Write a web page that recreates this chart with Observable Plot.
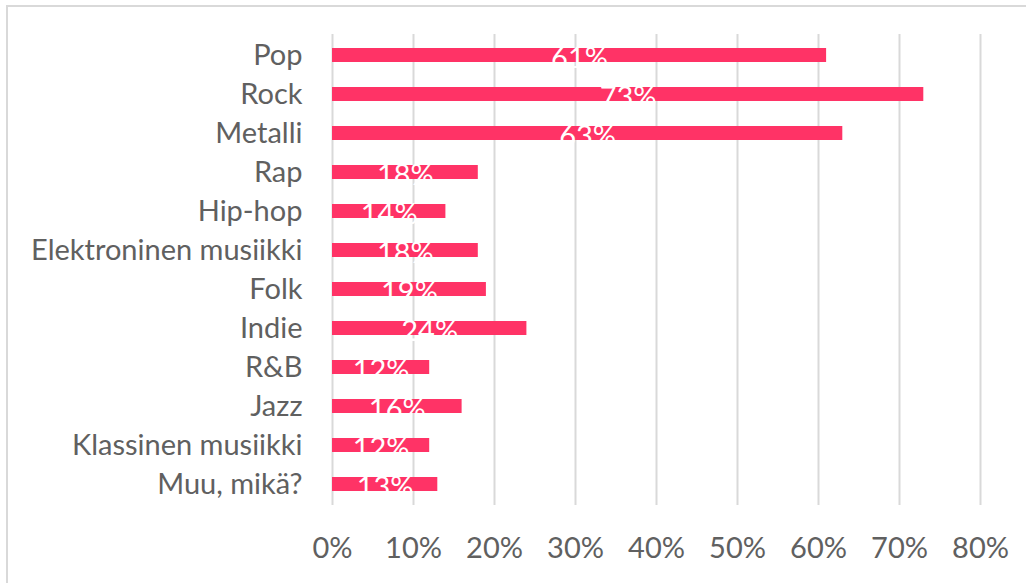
<!DOCTYPE html>
<html>
<head>
<meta charset="utf-8">
<script src="https://cdn.jsdelivr.net/npm/d3@7"></script>
<script src="https://cdn.jsdelivr.net/npm/@observablehq/plot@0.6"></script>
<style>
  html, body { margin: 0; padding: 0; background: #fff; overflow: hidden; }
  #wrap { position: relative; width: 1026px; height: 583px; }
  #frame { position: absolute; left: 6px; top: 5px; width: 1030px; height: 600px; border: 2px solid #d9d9d9; box-sizing: border-box; pointer-events: none; }
</style>
</head>
<body>
<div id="wrap"><div id="frame"></div><div id="chart"></div></div>
<script>
const genres = ["Pop", "Rock", "Metalli", "Rap", "Hip-hop", "Elektroninen musiikki", "Folk", "Indie", "R&B", "Jazz", "Klassinen musiikki", "Muu, mikä?"];
const shares = [61, 73, 63, 18, 14, 18, 19, 24, 12, 16, 12, 13];
const xTicks = [0, 10, 20, 30, 40, 50, 60, 70, 80];

const data = genres.map((g, i) => ({genre: g, value: shares[i]}));

const chart = Plot.plot({
  width: 1026,
  height: 583,
  marginLeft: 332,
  marginRight: 46,
  marginTop: 34,
  marginBottom: 78,
  style: {fontFamily: "Lato, 'Open Sans', sans-serif", background: "transparent"},
  x: {domain: [0, 80], ticks: xTicks},
  y: {domain: genres, paddingInner: 0.64, paddingOuter: 0.32, align: 0.5},
  marks: [
    Plot.gridX(xTicks, {stroke: "#d9d9d9", strokeOpacity: 1, strokeWidth: 2}),
    Plot.barX(data, {y: "genre", x: "value", fill: "#ff3366"}),
    Plot.text(data, {y: "genre", x: d => d.value / 2, text: d => d.value + "%", fill: "white", fontSize: 29, dy: 3}),
    Plot.axisY({tickSize: 0, tickPadding: 30, fontSize: 29, color: "#606060", label: null}),
    Plot.axisX(xTicks, {tickSize: 0, tickPadding: 32, fontSize: 29, color: "#606060", tickFormat: d => d + "%", label: null})
  ]
});
document.getElementById("chart").appendChild(chart);
</script>
</body>
</html>
